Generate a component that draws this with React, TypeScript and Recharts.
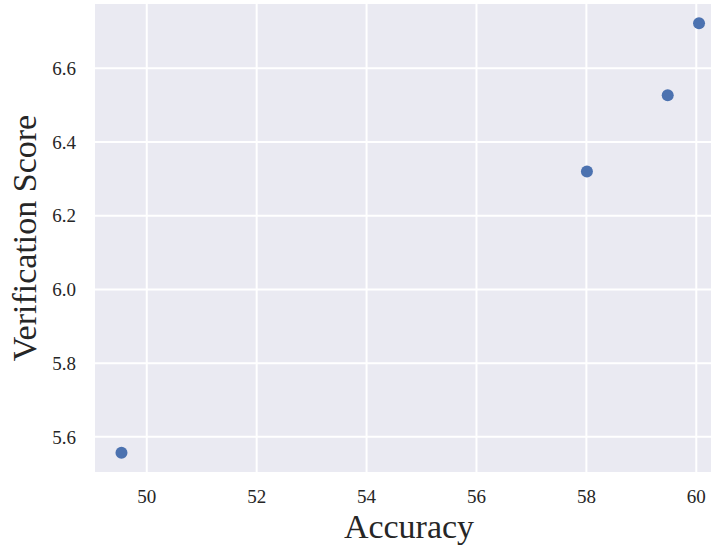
import { ScatterChart, Scatter, CartesianGrid, XAxis, YAxis, Label } from 'recharts'

const accuracy = [49.54, 58.01, 59.48, 60.05]
const verificationScore = [5.557, 6.32, 6.527, 6.722]
const xTicks = [50, 52, 54, 56, 58, 60]
const yTicks = [5.6, 5.8, 6.0, 6.2, 6.4, 6.6]

const points = accuracy.map((a, i) => ({ accuracy: a, score: verificationScore[i] }))

const FONT = '"Liberation Serif", "DejaVu Serif", serif'
const tickStyle = { fontFamily: FONT, fontSize: 19, fill: '#262626' }

export default function App() {
  return (
    <div style={{ position: 'absolute', left: 0, top: 0, width: 716, height: 550 }}>
      <ScatterChart width={716} height={550} margin={{ top: 3, right: 4, bottom: 0, left: 0 }}>
        <CartesianGrid fill="#EAEAF2" stroke="#ffffff" strokeWidth={2} />
        <XAxis
          type="number"
          dataKey="accuracy"
          domain={[49.04, 60.286]}
          ticks={xTicks}
          height={77}
          axisLine={false}
          tickLine={false}
          tickSize={0}
          tickMargin={17}
          tick={tickStyle}
        >
          <Label
            content={({ viewBox }: any) => (
              <text
                x={viewBox.x + viewBox.width / 2 + 6}
                y={538}
                textAnchor="middle"
                fontFamily={FONT}
                fontSize={34}
                fill="#262626"
              >
                Accuracy
              </text>
            )}
          />
        </XAxis>
        <YAxis
          type="number"
          dataKey="score"
          domain={[5.502, 6.777]}
          ticks={yTicks}
          width={94}
          axisLine={false}
          tickLine={false}
          tickSize={0}
          tickMargin={18}
          tick={tickStyle}
          tickFormatter={(v: number) => v.toFixed(1)}
        >
          <Label
            content={({ viewBox }: any) => {
              const cy = viewBox.y + viewBox.height / 2
              return (
                <text
                  x={36}
                  y={cy}
                  transform={`rotate(-90 36 ${cy})`}
                  textAnchor="middle"
                  fontFamily={FONT}
                  fontSize={34}
                  fill="#262626"
                >
                  Verification Score
                </text>
              )
            }}
          />
        </YAxis>
        <Scatter
          data={points}
          isAnimationActive={false}
          shape={(p: any) => <circle cx={p.cx} cy={p.cy} r={6} fill="#4C72B0" />}
        />
      </ScatterChart>
    </div>
  )
}
